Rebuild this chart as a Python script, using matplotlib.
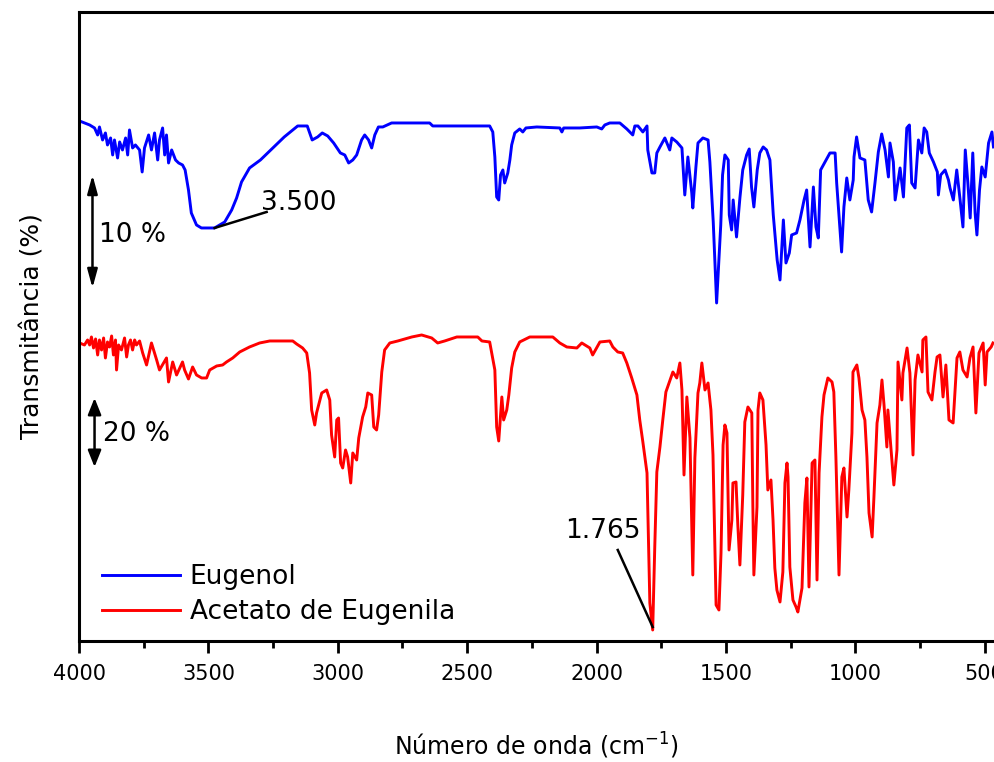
import matplotlib
matplotlib.use("Agg")
import matplotlib.pyplot as plt
from matplotlib.ticker import MultipleLocator

# Espectros de IV (número de onda em cm-1, transmitância em unidades deslocadas)
eugenol_wn = [3998, 3959, 3940, 3928, 3921, 3909, 3898, 3890, 3878, 3870, 3863, 3851, 3843, 3832,
              3820, 3812, 3805, 3793, 3782, 3766, 3756, 3747, 3731, 3720, 3708, 3696, 3689, 3677,
              3669, 3662, 3654, 3642, 3627, 3615, 3600, 3590, 3577, 3566, 3546, 3527, 3476, 3437,
              3410, 3391, 3372, 3341, 3299, 3259, 3207, 3155, 3118, 3099, 3078, 3060, 3039, 3016,
              2990, 2973, 2958, 2942, 2927, 2908, 2896, 2881, 2869, 2857, 2843, 2826, 2792, 2645,
              2633, 2413, 2401, 2393, 2386, 2378, 2371, 2362, 2355, 2343, 2335, 2328, 2316, 2297,
              2285, 2273, 2231, 2142, 2134, 2127, 2065, 1999, 1980, 1968, 1949, 1910, 1883, 1860,
              1852, 1840, 1821, 1805, 1802, 1786, 1775, 1767, 1755, 1736, 1717, 1709, 1690, 1670,
              1659, 1647, 1632, 1628, 1616, 1608, 1589, 1569, 1562, 1549, 1536, 1520, 1513, 1504,
              1491, 1487, 1478, 1472, 1459, 1446, 1435, 1420, 1410, 1401, 1392, 1379, 1369, 1356,
              1343, 1330, 1317, 1302, 1291, 1278, 1268, 1255, 1246, 1227, 1214, 1198, 1188, 1175,
              1162, 1152, 1143, 1134, 1117, 1098, 1078, 1072, 1053, 1044, 1033, 1021, 1008, 1005,
              995, 982, 963, 950, 937, 924, 911, 898, 885, 872, 866, 853, 846, 827, 814, 801, 791,
              782, 769, 756, 743, 734, 724, 714, 698, 683, 679, 670, 653, 640, 634, 621, 608, 595,
              584, 575, 565, 556, 546, 537, 530, 520, 511, 498, 485, 472, 466]
eugenol_t = [520, 516, 513, 506, 514, 501, 508, 496, 503, 486, 501, 483, 499, 491,
             503, 486, 511, 493, 496, 491, 469, 493, 506, 491, 508, 481, 501, 513,
             486, 506, 478, 491, 481, 478, 476, 471, 451, 428, 416, 413, 413, 419,
             431, 443, 459, 473, 481, 491, 504, 515, 515, 501, 504, 508, 505, 498,
             488, 486, 478, 481, 486, 501, 506, 501, 493, 506, 514, 514, 518, 518,
             515, 515, 509, 484, 444, 441, 466, 471, 458, 468, 481, 496, 508, 512,
             509, 513, 514, 513, 509, 513, 513, 514, 512, 516, 518, 518, 512, 506,
             515, 515, 509, 515, 491, 468, 468, 488, 494, 503, 491, 503, 499, 493,
             446, 484, 448, 433, 474, 498, 503, 501, 479, 419, 338, 416, 466, 486,
             481, 426, 411, 441, 404, 443, 471, 486, 492, 454, 434, 471, 488, 494,
             491, 481, 426, 381, 361, 421, 378, 388, 406, 408, 421, 441, 451, 394,
             454, 414, 403, 471, 479, 488, 488, 458, 389, 434, 463, 441, 461, 484,
             504, 483, 481, 441, 429, 458, 489, 507, 491, 464, 498, 479, 441, 473, 444, 513, 516,
             458, 453, 501, 488, 513, 509, 488, 479, 469, 446, 466, 471, 461, 453, 441, 471, 441,
             414, 491, 458, 423, 488, 428, 406, 451, 474, 464, 498, 509, 494]

acetato_wn = [3998, 3979, 3967, 3959, 3952, 3944, 3936, 3928, 3921, 3913, 3905, 3898, 3890, 3882,
              3874, 3867, 3859, 3855, 3847, 3836, 3824, 3816, 3809, 3801, 3793, 3785, 3778, 3766,
              3754, 3739, 3720, 3700, 3689, 3662, 3654, 3638, 3623, 3600, 3592, 3577, 3561, 3546,
              3526, 3507, 3495, 3468, 3445, 3430, 3406, 3379, 3341, 3302, 3263, 3174, 3159, 3136,
              3120, 3109, 3101, 3089, 3082, 3062, 3043, 3031, 3024, 3012, 3004, 2997, 2989, 2981,
              2970, 2962, 2950, 2942, 2927, 2919, 2904, 2892, 2884, 2869, 2861, 2850, 2842, 2830,
              2819, 2799, 2768, 2714, 2676, 2637, 2614, 2587, 2540, 2459, 2443, 2413, 2393, 2386,
              2378, 2366, 2359, 2347, 2339, 2328, 2316, 2297, 2258, 2169, 2142, 2115, 2076, 2057,
              2026, 2015, 1987, 1949, 1937, 1918, 1899, 1883, 1864, 1844, 1833, 1821, 1805, 1794,
              1783, 1775, 1767, 1755, 1744, 1732, 1720, 1705, 1690, 1678, 1670, 1662, 1651, 1639,
              1628, 1620, 1608, 1601, 1593, 1581, 1569, 1558, 1550, 1538, 1527, 1519, 1511, 1504,
              1496, 1488, 1477, 1473, 1461, 1454, 1446, 1435, 1427, 1415, 1400, 1396, 1392, 1380,
              1376, 1369, 1357, 1345, 1338, 1326, 1318, 1311, 1303, 1291, 1280, 1272, 1264, 1260,
              1253, 1241, 1229, 1222, 1206, 1195, 1187, 1179, 1167, 1156, 1148, 1140, 1129, 1121,
              1106, 1090, 1083, 1075, 1063, 1052, 1044, 1032, 1025, 1013, 1009, 994, 986, 974,
              963, 955, 947, 935, 928, 916, 905, 897, 889, 878, 874, 858, 851, 839, 835, 820,
              816, 800, 789, 777, 769, 758, 742, 739, 727, 719, 704, 692, 684, 673, 661, 650,
              638, 622, 615, 607, 596, 584, 568, 557, 545, 534, 522, 506, 498, 491, 475, 468]
acetato_t = [298, 296, 301, 296, 304, 293, 302, 286, 301, 291, 303, 283, 299, 294,
             305, 286, 301, 271, 296, 291, 303, 284, 296, 301, 291, 301, 296, 300,
             288, 276, 298, 281, 271, 283, 259, 279, 266, 279, 271, 262, 274, 266,
             263, 263, 271, 275, 276, 279, 283, 289, 294, 298, 300, 300, 297, 293,
             288, 268, 231, 216, 228, 248, 251, 241, 206, 184, 221, 223, 178, 173,
             191, 184, 158, 188, 181, 203, 224, 234, 248, 246, 214, 211, 226, 269,
             291, 298, 300, 304, 306, 303, 298, 300, 304, 304, 300, 299, 271, 214,
             200, 244, 221, 231, 246, 273, 289, 299, 304, 304, 298, 294, 293, 298,
             293, 286, 299, 300, 294, 289, 288, 278, 263, 246, 221, 199, 168, 38,
             11, 94, 169, 194, 221, 249, 258, 269, 263, 278, 251, 166, 244, 203,
             66, 183, 248, 258, 278, 251, 258, 231, 186, 36, 31, 88, 196, 216,
             208, 91, 121, 158, 159, 116, 76, 146, 219, 234, 228, 136, 66, 134,
             231, 248, 241, 196, 151, 161, 121, 73, 51, 39, 69, 158, 178, 164,
             74, 41, 34, 29, 53, 138, 163, 54, 178, 181, 61, 168, 224, 246,
             263, 259, 249, 184, 66, 164, 173, 124, 151, 208, 269, 276, 263, 231,
             221, 184, 128, 104, 144, 218, 236, 261, 236, 194, 231, 179, 156, 191, 279, 241,
             268, 293, 268, 186, 261, 286, 269, 301, 304, 249, 241, 269, 284, 286, 244, 276,
             221, 218, 249, 283, 289, 271, 264, 283, 294, 228, 288, 298, 256, 289, 294, 298]

x_ticks = [4000, 3500, 3000, 2500, 2000, 1500, 1000, 500]


def plot():
    big_text = 19

    fig = plt.figure(figsize=(9.94, 7.62), dpi=100)
    ax = fig.add_axes([0.0795, 0.1588, 0.9205, 0.8255])

    ax.plot(eugenol_wn, eugenol_t, color="#0000ff", lw=2.1, label="Eugenol")
    ax.plot(acetato_wn, acetato_t, color="#ff0000", lw=2.1, label="Acetato de Eugenila")

    ax.set_xlim(4000, 464)
    ax.set_ylim(0, 629)

    ax.set_xticks(x_ticks)
    ax.xaxis.set_minor_locator(MultipleLocator(250))
    ax.tick_params(axis="x", which="major", direction="out", length=8.6, width=2,
                   labelsize=15, pad=8)
    ax.tick_params(axis="x", which="minor", direction="out", length=5, width=2)
    ax.set_yticks([])
    for side in ("left", "bottom", "top"):
        ax.spines[side].set_linewidth(2.2)
    ax.spines["right"].set_visible(False)

    ax.set_xlabel("Número de onda (cm$^{-1}$)", fontsize=17, labelpad=34)
    ax.set_ylabel("Transmitância (%)", fontsize=18, labelpad=25)

    # barras de escala
    ax.annotate("", xy=(3948, 466), xytext=(3948, 353),
                arrowprops=dict(arrowstyle="<|-|>,head_length=0.55,head_width=0.15",
                                color="black", lw=1.8, shrinkA=0, shrinkB=0, mutation_scale=20))
    ax.text(3921, 406, "10 %", fontsize=big_text, va="center", ha="left")
    ax.annotate("", xy=(3940, 243), xytext=(3940, 174),
                arrowprops=dict(arrowstyle="<|-|>,head_length=0.5,head_width=0.2",
                                color="black", lw=1.8, shrinkA=0, shrinkB=0, mutation_scale=20))
    ax.text(3909, 207, "20 %", fontsize=big_text, va="center", ha="left")

    # picos marcados
    ax.plot([3476, 3275], [413, 429], color="black", lw=1.8)
    ax.text(3298, 431, "3.500", fontsize=big_text, va="baseline", ha="left")
    ax.plot([1918, 1783], [91, 14], color="black", lw=1.8)
    ax.text(2123, 103, "1.765", fontsize=big_text, va="baseline", ha="left")

    ax.legend(loc="lower left", bbox_to_anchor=(0.025, 0.025), frameon=False,
              fontsize=big_text, handlelength=2.95, handletextpad=0.38,
              labelspacing=0.35, borderpad=0, borderaxespad=0)

    fig.savefig("out.png", dpi=100)


if __name__ == "__main__":
    plot()
